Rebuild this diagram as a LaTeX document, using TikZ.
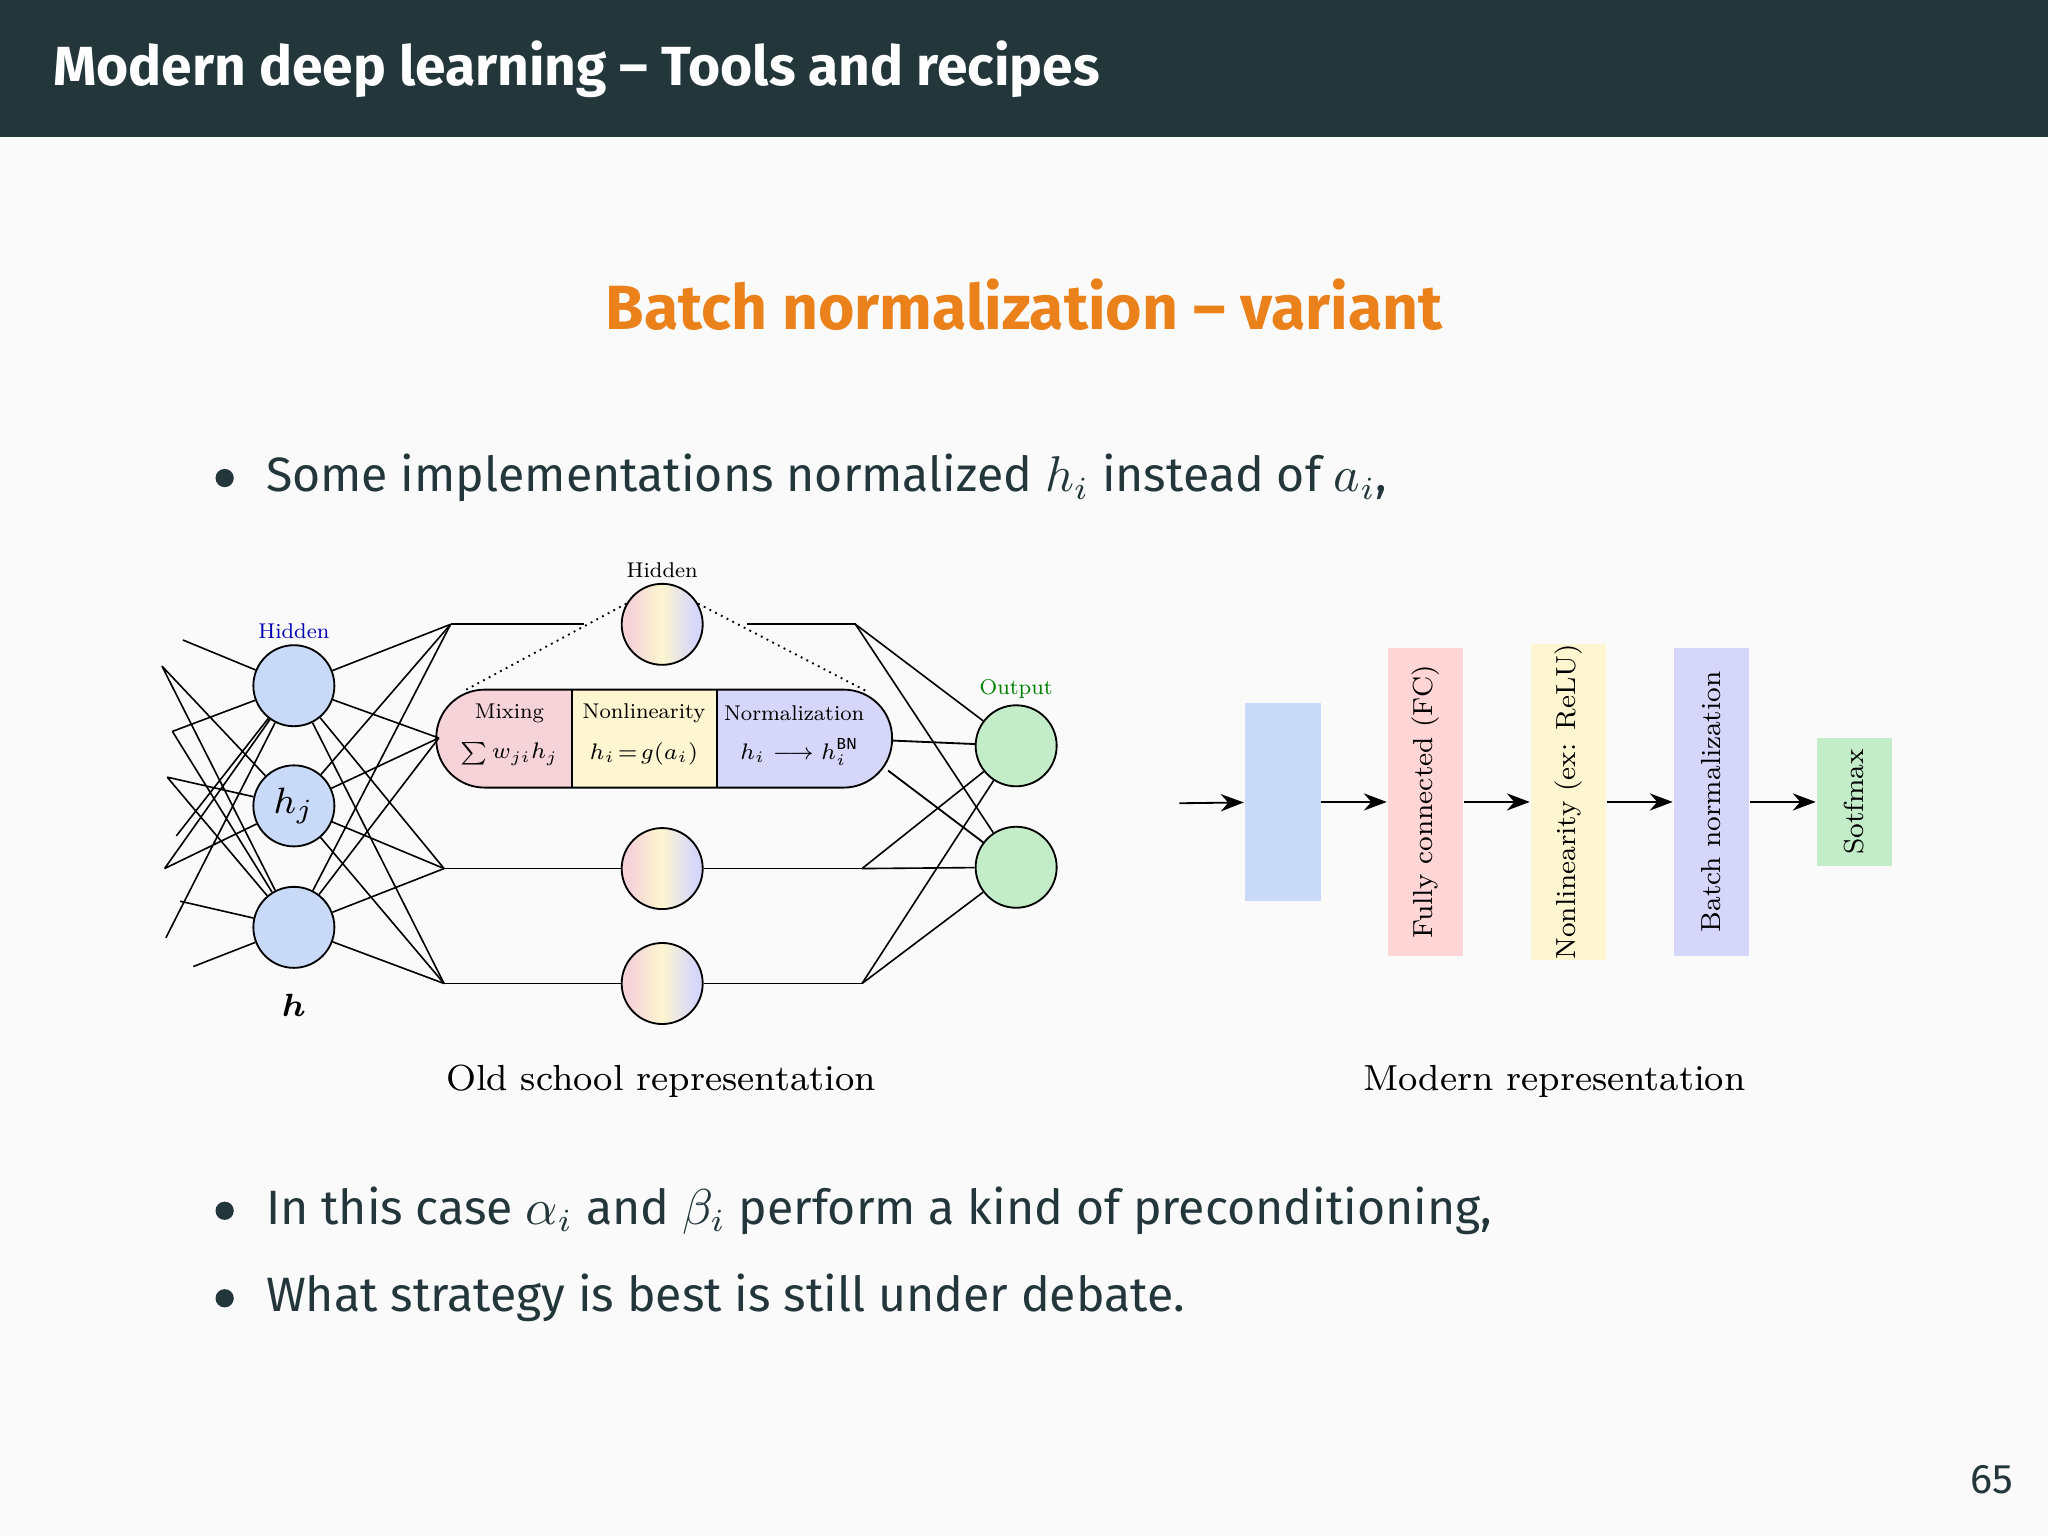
\documentclass[tikz,border=0pt]{standalone}
\usepackage{amsmath,bm}
\usepackage{fontspec}
\setmainfont{Fira Sans}
\newfontfamily\lmr{Latin Modern Roman}
\usetikzlibrary{arrows.meta,positioning}
\definecolor{bgc}{HTML}{FAFAFA}
\definecolor{hdc}{HTML}{23373B}
\definecolor{orc}{HTML}{EB811B}
\definecolor{bluec}{HTML}{C9DAF8}
\definecolor{greenc}{HTML}{C3EDC8}
\definecolor{pinkc}{HTML}{F5D3D8}
\definecolor{yelc}{HTML}{FDF6D0}
\definecolor{lavc}{HTML}{D6D6FA}
\definecolor{fcc}{HTML}{FFD5D5}
\pgfdeclarehorizontalshading{hidgrad}{100bp}{color(0bp)=(pinkc); color(30bp)=(pinkc); color(50bp)=(yelc); color(70bp)=(lavc); color(100bp)=(lavc)}
\newcommand\tinylab[1]{\scalebox{0.58}{#1}}
\newcommand\boxlab[1]{\scalebox{0.75}{\rotatebox{90}{#1}}}
\tikzset{
  neuron/.style={circle,draw,line width=0.4pt,minimum size=0.62cm,inner sep=0pt},
  blu/.style={neuron,fill=bluec},
  hid/.style={neuron,shading=hidgrad},
  outn/.style={neuron,fill=greenc},
  blk/.style={minimum width=0.58cm,inner sep=0pt,font=\lmr\fontsize{8}{9}\selectfont},
  bullet/.style={anchor=west,font=\fontsize{10.5}{12}\selectfont,text=hdc},
  lab/.style={inner sep=1pt,font=\lmr\fontsize{8}{9}\selectfont},
  pmath/.style={font=\fontsize{7}{8}\selectfont}
}
\begin{document}
\begin{tikzpicture}[x=0.01cm,y=-0.01cm]
\useasboundingbox (0,0) rectangle (1568,1176);
\fill[bgc] (0,0) rectangle (1568,1176);
\fill[hdc] (0,0) rectangle (1568,105);
\node[anchor=west,inner sep=0pt,text=white,font=\bfseries\fontsize{12}{14}\selectfont] at (40,53) {Modern deep learning -- Tools and recipes};
\node[text=orc,font=\bfseries\fontsize{13.6}{16}\selectfont] at (784,233) {Batch normalization -- variant};
% bullets
\foreach \y in {366,927,994}
  \fill[hdc] (172,\y) circle (7);
\node[bullet,inner sep=0pt] at (203,366) {Some implementations normalized $h_i$ instead of $a_i$,};
\node[bullet,inner sep=0pt] at (203,927) {In this case $\alpha_i$ and $\beta_i$ perform a kind of preconditioning,};
\node[bullet,inner sep=0pt] at (203,994) {What strategy is best is still under debate.};
\node[text=hdc,font=\fontsize{9}{10}\selectfont] at (1525,1133) {65};

% old school network
\node[blu] (l1) at (225,525) {};
\node[blu] (l2) at (225,617) {\fontsize{8}{9}\selectfont$h_j$};
\node[blu] (l3) at (225,710) {};
\node[lab,text=blue!70!black,above=0pt of l1] {\tinylab{Hidden}};
\node[below=2pt of l3,font=\fontsize{7}{8}\selectfont] {$\bm{h}$};
\node[hid] (m1) at (507,478) {};
\node[hid] (m2) at (507,665) {};
\node[hid] (m3) at (507,753) {};
\node[lab,above=0pt of m1] {\tinylab{Hidden}};
\node[outn] (o1) at (778,571) {};
\node[outn] (o2) at (778,664) {};
\node[lab,text=green!50!black,above=0pt of o1] {\tinylab{Output}};
% pill
\begin{scope}
\clip[rounded corners=0.37cm] (334,528) rectangle (683,603);
\fill[pinkc] (334,528) rectangle (438,603);
\fill[yelc] (438,528) rectangle (549,603);
\fill[lavc] (549,528) rectangle (683,603);
\end{scope}
\draw[rounded corners=0.37cm] (334,528) rectangle (683,603);
\draw (438,528) -- (438,603) (549,528) -- (549,603);
\node[lab] at (390,546) {\tinylab{Mixing}};
\node[lab] at (493,546) {\tinylab{Nonlinearity}};
\node[lab] at (608,546) {\tinylab{Normalization}};
\node[pmath] at (390,577) {\scalebox{0.7}{$\sum w_{ji}h_j$}};
\node[pmath] at (493,577) {\scalebox{0.7}{$h_i\!=\!g(a_i)$}};
\node[pmath] at (612,576) {\scalebox{0.7}{$h_i\longrightarrow h_i^{\mathrm{BN}}$}};
\draw[densely dotted] (m1.150) -- (357,528) (m1.30) -- (665,530);
% junctions
\coordinate (j1) at (345,478);
\coordinate (j2) at (336,565);
\coordinate (j3) at (340,665);
\coordinate (j4) at (340,753);
\coordinate (k1) at (655,478);
\coordinate (k2) at (683,567);
\coordinate (k3) at (660,665);
\coordinate (k4) at (660,753);
\coordinate (k5) at (680,590);
\foreach \l in {l1,l2,l3}
  \foreach \j in {j1,j2,j3,j4}
    \draw[line width=0.35pt] (\l) -- (\j);
\draw (j1) -- (447,478) (572,478) -- (k1);
\draw (j3) -- (m2) -- (k3) (j4) -- (m3) -- (k4);
\foreach \k in {k1,k3,k4}
  \foreach \o in {o1,o2}
    \draw[line width=0.35pt] (\k) -- (\o);
\draw (k2) -- (o1) (k5) -- (o2);
% inputs
\coordinate (i1) at (140,490);
\coordinate (i2) at (124,510);
\coordinate (i3) at (132,560);
\coordinate (i4) at (128,595);
\coordinate (i5) at (135,640);
\coordinate (i6) at (126,665);
\coordinate (i7) at (138,690);
\coordinate (i8) at (127,718);
\coordinate (i9) at (148,740);
\draw[line width=0.35pt] (i1) -- (l1) (i3) -- (l1) (i2) -- (l2) (i5) -- (l1)
  (i4) -- (l2) (i6) -- (l2) (i8) -- (l1) (i7) -- (l3) (i9) -- (l3)
  (i2) -- (l3) (i3) -- (l3) (i6) -- (l1) (i4) -- (l3);
\node[font=\lmr\fontsize{7.9}{9}\selectfont] at (506,828) {Old school representation};

% modern network
\coordinate (a0) at (903,615);
\node[blk,fill=bluec,minimum height=1.52cm] (b0) at (982,614) {};
\node[blk,fill=fcc,minimum height=2.35cm,right=0.5cm of b0] (b1) {\boxlab{Fully connected (FC)}};
\node[blk,fill=yelc,minimum height=2.35cm,right=0.5cm of b1] (b2) {\boxlab{Nonlinearity (ex: ReLU)}};
\node[blk,fill=lavc,minimum height=2.35cm,right=0.5cm of b2] (b3) {\boxlab{Batch normalization}};
\node[blk,fill=greenc,minimum height=0.98cm,right=0.5cm of b3] (b4) {\boxlab{Sotfmax}};
\draw[-{Stealth[length=5pt]}] (a0) -- (b0);
\foreach \p/\q in {b0/b1,b1/b2,b2/b3,b3/b4}
  \draw[-{Stealth[length=5pt]}] (\p) -- (\q);
\node[font=\lmr\fontsize{7.9}{9}\selectfont] at (1190,828) {Modern representation};
\end{tikzpicture}
\end{document}
